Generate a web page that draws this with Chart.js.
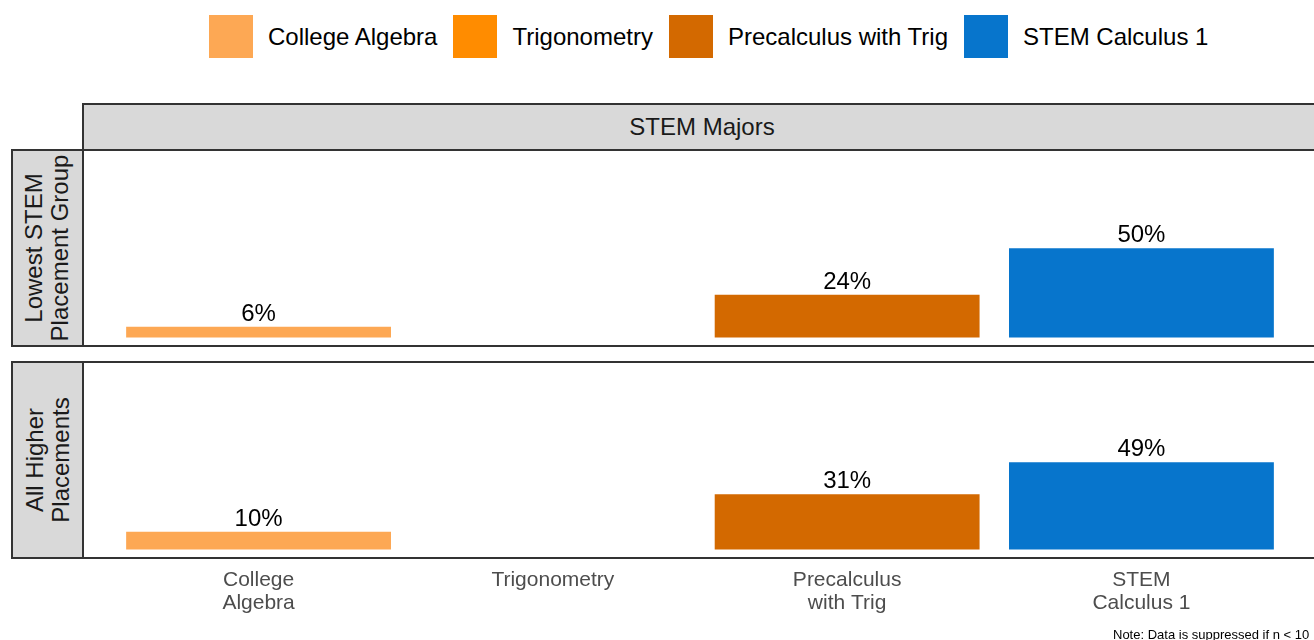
<!DOCTYPE html>
<html>
<head>
<meta charset="utf-8">
<script src="https://cdn.jsdelivr.net/npm/chart.js@4.4.1/dist/chart.umd.min.js"></script>
<style>
  html, body { margin: 0; padding: 0; }
  body {
    width: 1314px; height: 640px; position: relative; overflow: hidden;
    background: #fff; font-family: "Liberation Sans", Arial, sans-serif;
  }
  #legend { position: absolute; top: 15px; left: 209px; height: 43px; display: flex; align-items: center; }
  .item { display: flex; align-items: center; margin-right: 16px; }
  .swatch { width: 44px; height: 43px; margin-right: 15px; }
  .item span { font-size: 24px; color: #000; white-space: nowrap; }
  .strip {
    position: absolute; box-sizing: border-box; background: #d9d9d9; border: 2px solid #333;
    color: #1a1a1a; font-size: 24px; display: flex; align-items: center; justify-content: center;
  }
  #colStrip { left: 82px; top: 103px; width: 1240px; height: 48px; }
  .rowStrip { left: 11px; width: 73px; height: 198px; }
  .rowStrip div { transform: rotate(-90deg); white-space: nowrap; text-align: center; line-height: 26px; flex-shrink: 0; }
  canvas { position: absolute; left: 82px; }
  #note { position: absolute; left: 1113px; top: 627px; font-size: 13px; line-height: 15px; color: #000; white-space: nowrap; }
</style>
</head>
<body>
<div id="legend"></div>
<div class="strip" id="colStrip">STEM Majors</div>
<div class="strip rowStrip" id="rowStrip1" style="top:149px"></div>
<div class="strip rowStrip" id="rowStrip2" style="top:361px"></div>
<canvas id="panel1" width="1236" height="198" style="top:149px"></canvas>
<canvas id="panel2" width="1236" height="279" style="top:361px"></canvas>
<div id="note">Note: Data is suppressed if n &lt; 10</div>
<script>
const courses = ['College Algebra', 'Trigonometry', 'Precalculus with Trig', 'STEM Calculus 1'];
const tickLabels = [['College', 'Algebra'], ['Trigonometry'], ['Precalculus', 'with Trig'], ['STEM', 'Calculus 1']];
const groupLabels = [['Lowest STEM', 'Placement Group'], ['All Higher', 'Placements']];
const lowestValues = [6, null, 24, 50];
const higherValues = [10, null, 31, 49];
const courseColors = ['#fda854', '#ff8c00', '#d36900', '#0775cc'];

const legend = document.getElementById('legend');
courses.forEach((c, i) => {
    const item = document.createElement('div');
    item.className = 'item';
    item.innerHTML = `<div class="swatch" style="background:${courseColors[i]}"></div><span>${c}</span>`;
    legend.appendChild(item);
});

['rowStrip1', 'rowStrip2'].forEach((id, i) => {
    document.getElementById(id).innerHTML = `<div>${groupLabels[i].join('<br>')}</div>`;
});

const panelBorder = {
    id: 'panelBorder',
    afterDraw(chart) {
        const a = chart.chartArea;
        const ctx = chart.ctx;
        ctx.save();
        ctx.strokeStyle = '#333';
        ctx.lineWidth = 2;
        ctx.strokeRect(a.left + 1, a.top + 1, a.right - a.left - 2, a.bottom - a.top - 2);
        ctx.restore();
    }
};

const barLabels = {
    id: 'barLabels',
    afterDatasetsDraw(chart) {
        const ctx = chart.ctx;
        const meta = chart.getDatasetMeta(0);
        ctx.save();
        ctx.font = '24px "Liberation Sans", Arial, sans-serif';
        ctx.fillStyle = '#000';
        ctx.textAlign = 'center';
        ctx.textBaseline = 'alphabetic';
        meta.data.forEach((bar, i) => {
            const v = chart.data.datasets[0].data[i].y;
            if (v === null) return;
            ctx.fillText(v + '%', bar.x, bar.y - 6);
        });
        ctx.restore();
    }
};

function makePanel(id, values, showAxis) {
    const xScale = {
        type: 'linear',
        min: -0.6,
        max: 3.6,
        offset: false,
        display: showAxis,
        grid: { display: false, drawTicks: false, offset: false },
        border: { display: false },
        afterBuildTicks: s => { s.ticks = courses.map((c, i) => ({ value: i })); },
        ticks: {
            autoSkip: false,
            maxRotation: 0,
            padding: 10,
            color: '#4d4d4d',
            font: { family: '"Liberation Sans", Arial, sans-serif', size: 21, lineHeight: 1.1 },
            callback: v => tickLabels[v]
        }
    };
    if (showAxis) xScale.afterFit = s => { s.height = 81; };

    return new Chart(document.getElementById(id), {
        type: 'bar',
        data: {
            datasets: [{
                data: values.map((v, i) => ({ x: i, y: v })),
                backgroundColor: courseColors,
                borderWidth: 0,
                barPercentage: 0.9,
                categoryPercentage: 1
            }]
        },
        options: {
            responsive: false,
            animation: false,
            layout: { padding: 0 },
            plugins: { legend: { display: false }, tooltip: { enabled: false } },
            scales: {
                x: xScale,
                y: { min: -5.3, max: 105.7, display: false }
            }
        },
        plugins: [barLabels, panelBorder]
    });
}

makePanel('panel1', lowestValues, false);
makePanel('panel2', higherValues, true);
</script>
</body>
</html>
